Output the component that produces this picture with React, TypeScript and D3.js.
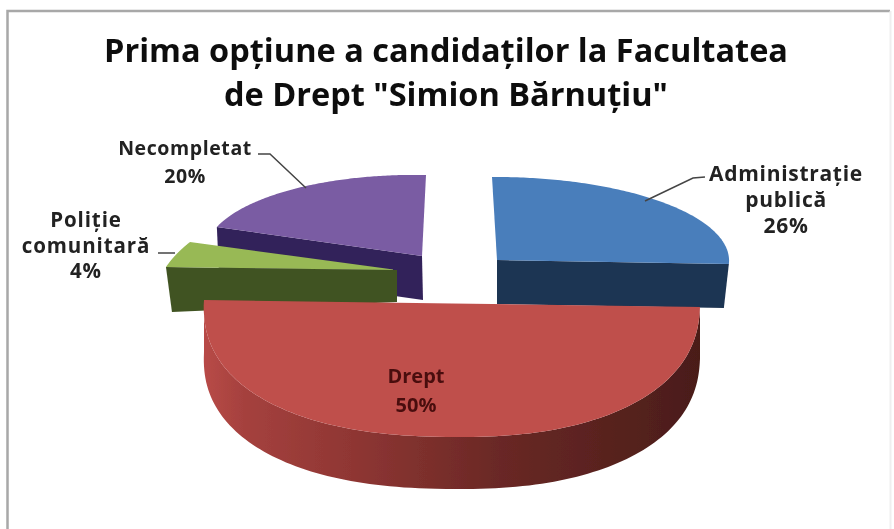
import React from "react";
import * as d3 from "d3";

const categories = ["Administrație publică", "Drept", "Poliție comunitară", "Necompletat"];
const shares = [26, 50, 4, 20];
const titleLines = ["Prima opțiune a candidaților la Facultatea", 'de Drept "Simion Bărnuțiu"'];

// projection of each exploded wedge: apex, image of the x/y unit axes, extrusion
const origins = [[497, 260], [452, 303.5], [397, 270], [422, 256]];
const axesX = [[232, -1.2], [248, 3.5], [234.8, -3.4], [217, 4.2]];
const axesY = [[-5, -83], [6, -133.5], [52.6, -101], [4, -81]];
const rimPower = [1, 0.87, 1, 1];
const alignToStart = [false, true, false, false];
const depthsApex = [[0, 44], [0, 52], [0, 32], [1, 44]];
const depthsRim = [[-5, 44], [0, 52], [6, 45], [2, 44]];
const topColors = ["#4a7ebb", "#bf4f4c", "#98b954", "#7a5ca3"];
const sideColors = ["#1f3552", "#6e2a26", "#3f5220", "#33235a"];
const drawOrder = [3, 2, 0, 1];

const labelLines = [["Administrație", "publică", "26%"], ["Drept", "50%"], ["Poliție", "comunitară", "4%"], ["Necompletat", "20%"]];
const labelX = [786, 416, 86, 185];
const labelY = [181, 383, 227, 155];
const labelSize = [21, 20, 20.5, 19.5];
const labelSpacing = [0.7, 0, 0.9, 0.6];
const labelStep = [26, 29, 25.5, 28];
const labelColor = ["#222", "#4a0f0f", "#222", "#222"];
const leaders = [
  [[705, 177], [693, 178], [645, 201]],
  [],
  [[158, 253], [175, 253]],
  [[258, 154], [270, 154], [306, 188]],
];

export default function App() {
  const arcs = d3.pie<number>().sort(null)(shares);
  const line = d3.line();
  const project = (i: number, t0: number): [number, number] => {
    const t = alignToStart[i] ? t0 - (arcs[i].startAngle - Math.PI / 2) : t0;
    const p = rimPower[i];
    const s = Math.sign(Math.sin(t)) * Math.abs(Math.sin(t)) ** p;
    const c = Math.sign(Math.cos(t)) * Math.abs(Math.cos(t)) ** p;
    return [
      origins[i][0] + axesX[i][0] * s + axesY[i][0] * c,
      origins[i][1] + axesX[i][1] * s + axesY[i][1] * c,
    ];
  };
  const sweep = (i: number) => {
    const a = arcs[i];
    return d3.range(0, 121).map((k) => a.startAngle + ((a.endAngle - a.startAngle) * k) / 120);
  };
  const shift = (d: number[], p: [number, number]): [number, number] => [p[0] + d[0], p[1] + d[1]];
  const font = "'Open Sans', sans-serif";

  return (
    <svg width={894} height={529} style={{ position: "absolute", left: 0, top: 0, background: "#fff" }}>
      <defs>
        <linearGradient id="redWall" gradientUnits="userSpaceOnUse" x1={204} x2={700} y1={0} y2={0}>
          <stop offset="0" stopColor="#b84a47" />
          <stop offset="0.08" stopColor="#a5413e" />
          <stop offset="0.3" stopColor="#8f3633" />
          <stop offset="0.6" stopColor="#692825" />
          <stop offset="1" stopColor="#4a1d19" />
        </linearGradient>
        <filter id="soft" x="-5%" y="-5%" width="110%" height="110%">
          <feGaussianBlur stdDeviation="0.55" />
        </filter>
      </defs>
      <g filter="url(#soft)">
        <path d="M7.5,529V11H890" fill="none" stroke="#a8a8a8" strokeWidth={2.5} />
        <path d="M890.5,11V529" fill="none" stroke="#efefef" strokeWidth={2} />
        {titleLines.map((t, i) => (
          <text key={t} x={446} y={62 + i * 44} textAnchor="middle" fontFamily={font} fontWeight={700} fontSize={32.5} fill="#111">
            {t}
          </text>
        ))}
        {drawOrder.map((i) => {
          const rim = sweep(i).map((t) => project(i, t));
          const apex = origins[i] as [number, number];
          const spokeEnd = i === 0 ? rim[rim.length - 1] : rim[0];
          const spoke = [apex, spokeEnd, shift(depthsRim[i], spokeEnd), shift(depthsApex[i], apex)] as [number, number][];
          const wall = [...rim, ...rim.slice().reverse().map((p) => shift(depthsRim[i], p))];
          return (
            <g key={categories[i]}>
              {i === 1 ? (
                <path d={line(wall) + "Z"} fill="url(#redWall)" />
              ) : (
                <path d={line(spoke) + "Z"} fill={sideColors[i]} />
              )}
              <path d={line([apex, ...rim]) + "Z"} fill={topColors[i]} />
            </g>
          );
        })}
        {leaders.map((pts, i) =>
          pts.length ? (
            <path key={i} d={line(pts as [number, number][]) ?? ""} fill="none" stroke="#444" strokeWidth={1.5} />
          ) : null
        )}
        {labelLines.map((ls, i) => (
          <text key={i} textAnchor="middle" fontFamily={font} fontWeight={700} fontSize={labelSize[i]} letterSpacing={labelSpacing[i]} fill={labelColor[i]}>
            {ls.map((l, k) => (
              <tspan key={k} x={labelX[i]} y={labelY[i] + k * labelStep[i]}>
                {l}
              </tspan>
            ))}
          </text>
        ))}
      </g>
    </svg>
  );
}
